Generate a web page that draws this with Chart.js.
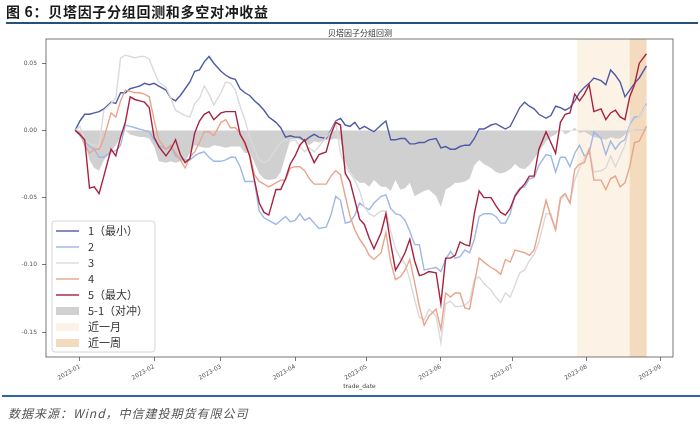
<!DOCTYPE html>
<html>
<head>
<meta charset="utf-8">
<script src="https://cdn.jsdelivr.net/npm/chart.js@4"></script>
<style>
  body { margin: 0; background: #fff; }
  #wrap { position: relative; width: 700px; height: 425px; overflow: hidden; }
  #fig-title { position: absolute; left: 6px; top: 1px; font: bold 14px "Noto Sans CJK SC"; letter-spacing: 0.7px; color: #1a1a1a; white-space: nowrap; }
  #top-rule { position: absolute; left: 6px; top: 22px; width: 692px; height: 2px; background: #24527a; }
  #chart-title { position: absolute; left: 260px; width: 200px; top: 27px; text-align: center; font: 8px "Noto Sans CJK SC"; color: #333; }
  #bottom-rule { position: absolute; left: 2px; top: 395px; width: 698px; height: 2px; background: #2a6aa0; }
  #source { position: absolute; left: 8px; top: 404px; font: italic 12px "Noto Sans CJK SC"; letter-spacing: 1px; color: #555; white-space: nowrap; }
  canvas { position: absolute; left: 0; top: 0; }
</style>
</head>
<body>
<div id="wrap">
  <canvas id="myChart" width="700" height="425"></canvas>
  <div id="fig-title">图 6：贝塔因子分组回测和多空对冲收益</div>
  <div id="top-rule"></div>
  <div id="chart-title">贝塔因子分组回测</div>
  <div id="bottom-rule"></div>
  <div id="source">数据来源：Wind，中信建投期货有限公司</div>
</div>
<script>
'use strict';

let dates = [
  '2022-12-30','2023-01-01','2023-01-03','2023-01-05','2023-01-07','2023-01-09','2023-01-11','2023-01-14','2023-01-16','2023-01-18',
  '2023-01-20','2023-01-22','2023-01-24','2023-01-26','2023-01-28','2023-01-30','2023-02-01','2023-02-03','2023-02-06','2023-02-08',
  '2023-02-10','2023-02-12','2023-02-14','2023-02-16','2023-02-18','2023-02-20','2023-02-22','2023-02-24','2023-02-26',
  '2023-03-01','2023-03-03','2023-03-05','2023-03-07','2023-03-09','2023-03-11','2023-03-13','2023-03-15','2023-03-17','2023-03-19',
  '2023-03-21','2023-03-24','2023-03-26','2023-03-28','2023-03-30','2023-04-01','2023-04-03','2023-04-05','2023-04-07','2023-04-09',
  '2023-04-11','2023-04-14','2023-04-16','2023-04-18','2023-04-20','2023-04-22','2023-04-24','2023-04-26','2023-04-28',
  '2023-04-30','2023-05-02','2023-05-04','2023-05-07','2023-05-09','2023-05-11','2023-05-13','2023-05-15','2023-05-17','2023-05-19',
  '2023-05-21','2023-05-23','2023-05-25','2023-05-27','2023-05-30','2023-06-01','2023-06-03','2023-06-05','2023-06-07','2023-06-09',
  '2023-06-11','2023-06-13','2023-06-15','2023-06-17','2023-06-19','2023-06-22','2023-06-24','2023-06-26','2023-06-28',
  '2023-06-30','2023-07-02','2023-07-04','2023-07-06','2023-07-08','2023-07-10','2023-07-12','2023-07-15','2023-07-17','2023-07-19',
  '2023-07-21','2023-07-23','2023-07-25','2023-07-27','2023-07-29','2023-07-31','2023-08-02','2023-08-04','2023-08-07','2023-08-09',
  '2023-08-11','2023-08-13','2023-08-15','2023-08-17','2023-08-19','2023-08-21','2023-08-23','2023-08-26'
];

let group1 = [
  0.000, 0.007, 0.012, 0.012, 0.013, 0.014, 0.016, 0.021, 0.020, 0.028, 0.028, 0.031, 0.032, 0.033, 0.035, 0.034, 0.035, 0.033, 0.030, 0.024,
  0.022, 0.026, 0.031, 0.036, 0.044, 0.045, 0.051, 0.055, 0.050,
  0.044, 0.041, 0.039, 0.038, 0.031, 0.028, 0.026, 0.022, 0.019, 0.015, 0.010, 0.006, 0.002, -0.005, -0.004, -0.005, -0.005, -0.008, -0.005, -0.003,
  -0.005, -0.006, 0.000, 0.007, 0.009, 0.004, 0.003, 0.006, 0.001,
  0.003, 0.001, -0.001, 0.004, 0.007, -0.007, -0.007, -0.006, -0.006, -0.010, -0.010, -0.009, -0.009, -0.007, -0.006, -0.013, -0.012, -0.014, -0.014, -0.012,
  -0.011, -0.011, -0.006, 0.001, 0.001, 0.004, 0.005, 0.003, 0.001,
  0.003, 0.010, 0.017, 0.021, 0.018, 0.016, 0.012, 0.009, 0.011, 0.018, 0.017, 0.015, 0.017, 0.022, 0.028, 0.032, 0.035, 0.039, 0.037, 0.034,
  0.045, 0.041, 0.036, 0.025, 0.030, 0.035, 0.039, 0.048
];
let group2 = [
  0.000, -0.004, -0.008, -0.012, -0.014, -0.020, -0.020, -0.016, -0.015, -0.011, 0.004, 0.003, 0.002, 0.001, 0.000, -0.001, -0.007, -0.011, -0.014, -0.012,
  -0.019, -0.021, -0.022, -0.022, -0.019, -0.017, -0.016, -0.020, -0.023,
  -0.023, -0.022, -0.020, -0.020, -0.027, -0.038, -0.038, -0.038, -0.060, -0.065, -0.067, -0.070, -0.067, -0.064, -0.068, -0.067, -0.062, -0.067, -0.065, -0.069,
  -0.073, -0.072, -0.063, -0.049, -0.052, -0.069, -0.068, -0.063, -0.054,
  -0.057, -0.059, -0.054, -0.049, -0.048, -0.058, -0.062, -0.063, -0.067, -0.075, -0.085, -0.085, -0.104, -0.103, -0.102, -0.105, -0.096, -0.090, -0.095, -0.094,
  -0.089, -0.091, -0.081, -0.064, -0.062, -0.062, -0.064, -0.069, -0.069,
  -0.062, -0.048, -0.043, -0.042, -0.036, -0.035, -0.026, -0.018, -0.019, -0.031, -0.020, -0.020, -0.027, -0.017, -0.011, -0.019, -0.017, -0.001, -0.006, -0.018,
  -0.008, -0.014, -0.009, -0.007, 0.004, 0.010, 0.010, 0.020
];
let group3 = [
  0.000, 0.003, -0.007, -0.010, -0.011, -0.012, 0.015, 0.020, 0.024, 0.054, 0.056, 0.055, 0.054, 0.055, 0.055, 0.053, 0.044, 0.036, 0.032, 0.024,
  0.015, 0.013, 0.011, 0.010, 0.020, 0.024, 0.033, 0.027, 0.019,
  0.028, 0.036, 0.035, 0.030, 0.018, 0.008, -0.005, -0.014, -0.022, -0.024, -0.022, -0.014, -0.009, -0.007, -0.008, -0.007, -0.012, -0.016, -0.013, -0.016,
  -0.012, -0.005, -0.001, 0.006, -0.017, -0.026, -0.032, -0.037, -0.045,
  -0.057, -0.062, -0.064, -0.060, -0.060, -0.075, -0.088, -0.095, -0.099, -0.111, -0.126, -0.139, -0.141, -0.133, -0.138, -0.158, -0.129, -0.127, -0.131, -0.131,
  -0.130, -0.127, -0.111, -0.109, -0.114, -0.119, -0.124, -0.128, -0.121,
  -0.124, -0.115, -0.106, -0.104, -0.097, -0.092, -0.083, -0.062, -0.062, -0.074, -0.052, -0.048, -0.054, -0.037, -0.028, -0.021, -0.014, -0.031, -0.030, -0.028,
  -0.019, -0.027, -0.019, -0.011, 0.003, 0.008, 0.010, 0.019
];
let group4 = [
  0.000, -0.002, -0.011, -0.017, -0.014, -0.014, -0.006, 0.013, 0.010, 0.022, 0.030, 0.029, 0.028, 0.028, 0.027, 0.025, 0.008, -0.007, -0.014, -0.011,
  -0.017, -0.022, -0.028, -0.020, -0.016, -0.009, -0.001, -0.001, -0.004,
  0.006, 0.008, 0.002, 0.002, -0.002, -0.011, -0.018, -0.033, -0.038, -0.040, -0.042, -0.039, -0.037, -0.037, -0.028, -0.027, -0.027, -0.030, -0.036, -0.040,
  -0.040, -0.040, -0.034, -0.030, -0.033, -0.049, -0.064, -0.074, -0.081,
  -0.086, -0.093, -0.096, -0.091, -0.076, -0.098, -0.111, -0.109, -0.104, -0.096, -0.113, -0.131, -0.145, -0.138, -0.133, -0.148, -0.121, -0.124, -0.121, -0.121,
  -0.132, -0.133, -0.114, -0.095, -0.098, -0.102, -0.104, -0.107, -0.096,
  -0.098, -0.089, -0.090, -0.091, -0.093, -0.089, -0.074, -0.052, -0.064, -0.074, -0.050, -0.047, -0.054, -0.029, -0.025, -0.024, -0.014, -0.037, -0.037, -0.044,
  -0.036, -0.034, -0.042, -0.039, -0.027, -0.009, -0.008, 0.003
];
let group5 = [
  0.000, -0.003, -0.007, -0.043, -0.042, -0.047, -0.034, -0.014, -0.019, -0.005, 0.006, 0.025, 0.023, 0.022, 0.021, 0.017, -0.005, -0.012, -0.019, -0.014,
  -0.007, -0.018, -0.024, -0.021, -0.002, 0.007, 0.012, 0.014, 0.008,
  0.013, 0.014, 0.014, 0.014, -0.003, -0.009, -0.019, -0.037, -0.054, -0.061, -0.063, -0.044, -0.044, -0.036, -0.025, -0.019, -0.011, -0.007, -0.016, -0.024,
  -0.018, -0.016, -0.003, 0.006, 0.004, -0.032, -0.038, -0.052, -0.066,
  -0.070, -0.080, -0.088, -0.076, -0.062, -0.084, -0.104, -0.098, -0.091, -0.081, -0.097, -0.108, -0.107, -0.105, -0.106, -0.129, -0.095, -0.095, -0.093, -0.083,
  -0.085, -0.086, -0.062, -0.045, -0.050, -0.050, -0.056, -0.061, -0.063,
  -0.058, -0.049, -0.044, -0.040, -0.034, -0.034, -0.014, -0.001, -0.009, -0.017, 0.006, 0.012, 0.013, 0.027, 0.022, 0.027, 0.034, 0.014, 0.016, 0.008,
  0.013, 0.015, 0.010, 0.008, 0.025, 0.034, 0.050, 0.057
];
// 5-1 long/short hedge
let hedge = [
  0.000, -0.003, -0.008, -0.022, -0.028, -0.030, -0.022, -0.016, -0.011, -0.005, 0.000, -0.003, -0.004, -0.005, -0.005, -0.006, -0.012, -0.023, -0.024, -0.023,
  -0.024, -0.023, -0.023, -0.017, -0.011, -0.012, -0.013, -0.013, -0.011,
  -0.012, -0.013, -0.012, -0.012, -0.012, -0.017, -0.016, -0.024, -0.032, -0.036, -0.037, -0.036, -0.031, -0.019, -0.007, -0.006, -0.007, -0.008, -0.011, -0.008,
  -0.009, -0.007, -0.007, -0.006, -0.007, -0.024, -0.031, -0.036, -0.039,
  -0.039, -0.042, -0.037, -0.042, -0.042, -0.045, -0.037, -0.044, -0.043, -0.039, -0.049, -0.047, -0.045, -0.044, -0.049, -0.057, -0.044, -0.042, -0.039, -0.039,
  -0.038, -0.036, -0.026, -0.022, -0.025, -0.028, -0.031, -0.032, -0.031,
  -0.029, -0.025, -0.028, -0.029, -0.026, -0.021, -0.016, -0.008, -0.005, -0.003, 0.001, -0.003, -0.001, 0.002, -0.002, -0.001, -0.003, -0.005, -0.006, -0.007,
  -0.005, -0.006, -0.006, -0.003, -0.001, 0.001, 0.001, 0.001
];

let monthTicks = ['2023-01', '2023-02', '2023-03', '2023-04', '2023-05', '2023-06', '2023-07', '2023-08', '2023-09'];
let yTicks = [-0.15, -0.10, -0.05, 0.00, 0.05];
let monthBand = ['2023-07-28', '2023-08-26'];
let weekBand = ['2023-08-19', '2023-08-26'];

// days since 2023-01-01
function dayOf(s){
  let p = s.split('-');
  return (Date.UTC(+p[0], +p[1] - 1, +p[2]) - Date.UTC(2023, 0, 1)) / 864e5;
}
function toPoints(vals){
  return dates.map((d, i) => ({x: dayOf(d), y: vals[i]}));
}

let legendItems = [
  {text: '1（最小）', color: '#4f5aa6', kind: 'line'},
  {text: '2', color: '#9fb7e6', kind: 'line'},
  {text: '3', color: '#dadada', kind: 'line'},
  {text: '4', color: '#e9a58b', kind: 'line'},
  {text: '5（最大）', color: '#a82240', kind: 'line'},
  {text: '5-1（对冲）', color: '#d0d0d0', kind: 'box'},
  {text: '近一月', color: '#fdf2e6', kind: 'box'},
  {text: '近一周', color: '#f5dbbd', kind: 'box'}
];

const bandPlugin = {
  id: 'bands',
  beforeDatasetsDraw(chart){
    let ctx = chart.ctx, a = chart.chartArea, xs = chart.scales.x;
    ctx.save();
    let m1 = xs.getPixelForValue(dayOf(monthBand[0])), m2 = xs.getPixelForValue(dayOf(monthBand[1]));
    ctx.fillStyle = '#fdf2e6';
    ctx.fillRect(m1, a.top, m2 - m1, a.bottom - a.top);
    let w1 = xs.getPixelForValue(dayOf(weekBand[0])), w2 = xs.getPixelForValue(dayOf(weekBand[1]));
    ctx.fillStyle = '#f5dbbd';
    ctx.fillRect(w1, a.top, w2 - w1, a.bottom - a.top);
    ctx.restore();
  }
};

const frameLegendPlugin = {
  id: 'frameLegend',
  afterDatasetsDraw(chart){
    let ctx = chart.ctx, a = chart.chartArea;
    ctx.save();
    ctx.strokeStyle = '#555';
    ctx.lineWidth = 0.8;
    ctx.strokeRect(a.left, a.top, a.right - a.left, a.bottom - a.top);

    // legend box, lower left inside the plot
    let bw = 103, bh = 131;
    let bx = a.left + 6, by = a.bottom - 5 - bh;
    ctx.fillStyle = 'rgba(255,255,255,0.85)';
    ctx.strokeStyle = '#d6d6d6';
    ctx.lineWidth = 1;
    ctx.beginPath();
    ctx.roundRect(bx, by, bw, bh, 3);
    ctx.fill();
    ctx.stroke();

    ctx.font = '11px "Noto Sans CJK SC"';
    ctx.textBaseline = 'middle';
    for(let i = 0; i < legendItems.length; i++){
      let it = legendItems[i];
      let cy = by + 10 + i * 16;
      if(it.kind === 'line'){
        ctx.strokeStyle = it.color;
        ctx.lineWidth = 1.4;
        ctx.beginPath();
        ctx.moveTo(bx + 4, cy);
        ctx.lineTo(bx + 27, cy);
        ctx.stroke();
      } else {
        ctx.fillStyle = it.color;
        ctx.fillRect(bx + 4, cy - 4, 23, 8);
      }
      ctx.fillStyle = '#333';
      ctx.fillText(it.text, bx + 36, cy);
    }
    ctx.restore();
  }
};

function lineSet(label, vals, color, order){
  return {
    label: label,
    data: toPoints(vals),
    borderColor: color,
    borderWidth: 1.4,
    pointRadius: 0,
    tension: 0,
    fill: false,
    order: order
  };
}

const tickFont = {family: 'DejaVu Sans', size: 6};

new Chart(document.getElementById('myChart'), {
  type: 'line',
  data: {
    datasets: [
      lineSet('5（最大）', group5, '#a82240', 1),
      lineSet('4', group4, '#e9a58b', 2),
      lineSet('3', group3, '#dadada', 3),
      lineSet('2', group2, '#9fb7e6', 4),
      lineSet('1（最小）', group1, '#4f5aa6', 5),
      {
        label: '5-1（对冲）',
        data: toPoints(hedge),
        borderWidth: 0,
        borderColor: 'rgba(0,0,0,0)',
        backgroundColor: '#d0d0d0',
        pointRadius: 0,
        fill: 'origin',
        order: 10
      }
    ]
  },
  options: {
    responsive: false,
    animation: false,
    devicePixelRatio: 1,
    layout: {padding: {top: 39, right: 27, bottom: 31, left: 0}},
    plugins: {
      legend: {display: false},
      tooltip: {enabled: false}
    },
    scales: {
      x: {
        type: 'linear',
        min: -14.2,
        max: 248.1,
        afterBuildTicks: s => { s.ticks = monthTicks.map(m => ({value: dayOf(m + '-01')})); },
        afterFit: s => { s.height = 37; },
        ticks: {
          callback: (v, i) => monthTicks[i],
          autoSkip: false,
          minRotation: 30,
          maxRotation: 30,
          font: tickFont,
          color: '#555',
          padding: 2
        },
        grid: {drawOnChartArea: false, drawTicks: true, tickLength: 4, color: '#555', lineWidth: 0.8},
        border: {display: false},
        title: {display: true, text: 'trade_date', font: tickFont, color: '#444', padding: {top: 0, bottom: 4}}
      },
      y: {
        type: 'linear',
        min: -0.1686,
        max: 0.068,
        afterBuildTicks: s => { s.ticks = yTicks.map(v => ({value: v})); },
        afterFit: s => { s.width = 46; },
        ticks: {
          callback: v => v.toFixed(2),
          font: tickFont,
          color: '#555',
          padding: 5
        },
        grid: {drawOnChartArea: false, drawTicks: true, tickLength: 4, color: '#555', lineWidth: 0.8},
        border: {display: false}
      }
    }
  },
  plugins: [bandPlugin, frameLegendPlugin]
});
</script>
</body>
</html>
